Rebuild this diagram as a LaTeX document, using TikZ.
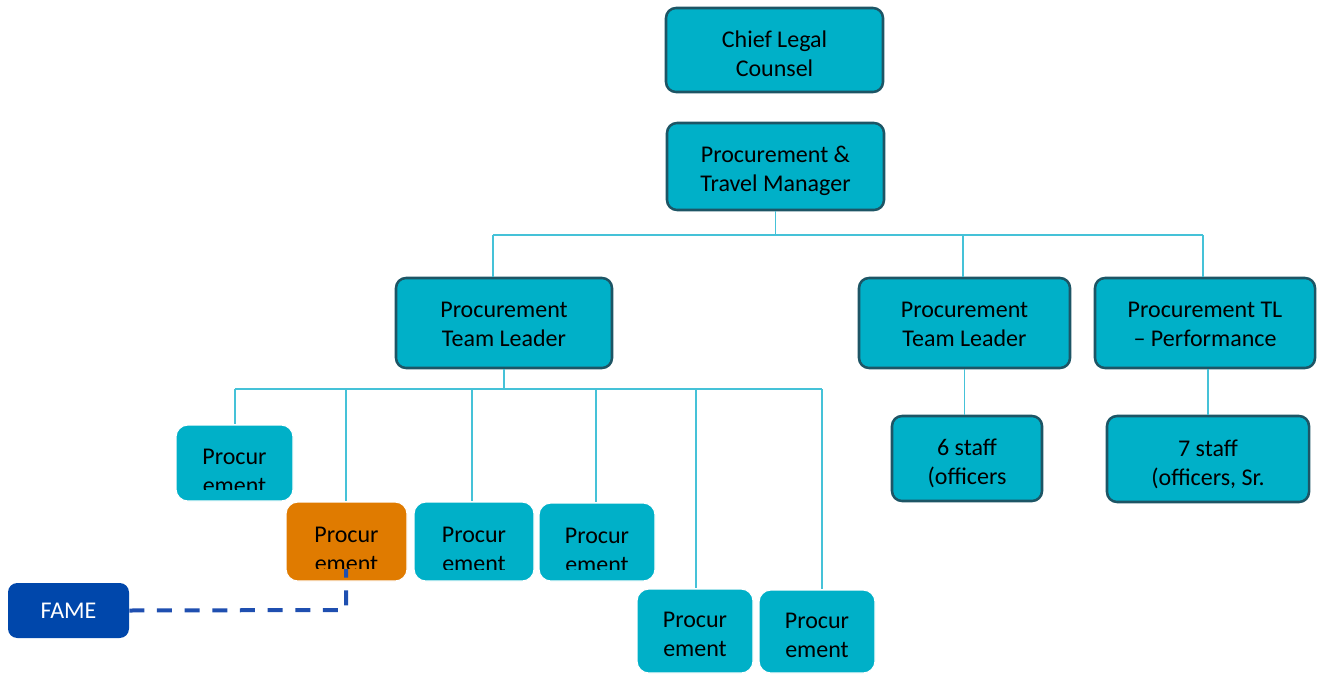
\documentclass[tikz,border=0pt]{standalone}
\usepackage{fontspec}
\setmainfont{Carlito}
\usetikzlibrary{fit}
\definecolor{boxteal}{HTML}{00B0C8}
\definecolor{boxedge}{HTML}{1D5565}
\definecolor{linkteal}{HTML}{45C2D8}
\definecolor{kidorange}{HTML}{E07B00}
\definecolor{fameblue}{HTML}{0047AB}
\definecolor{dashblue}{HTML}{1F4FB0}
\begin{document}
\begin{tikzpicture}[x=0.75pt, y=-0.75pt,
  font=\fontsize{18}{21.75}\selectfont,
  role/.style={draw=boxedge, line width=1.9pt, fill=boxteal, rounded corners=7.5pt,
    inner sep=0pt, minimum height=67.5pt},
  roletext/.style={align=center, inner sep=0pt, text=black},
  kid/.style={draw=white, line width=0.8pt, rounded corners=9pt, inner sep=0pt},
  kidtext/.style={align=center, inner sep=0pt, text=black},
  link/.style={draw=linkteal, line width=1pt}]
  \useasboundingbox (0,0) rectangle (1320,674);

  \node[role, minimum width=162.75pt, minimum height=63pt,
    label={[roletext, name=clctext, yshift=-3pt]center:Chief Legal\\Counsel}] (clc) at (774.5,50) {};
  \node[role, minimum width=162.75pt, minimum height=65.25pt,
    label={[roletext, name=ptmtext, yshift=-3pt]center:Procurement \&\\Travel Manager}] (ptm) at (775.5,166.5) {};
  \node[role, minimum width=162pt,
    label={[roletext, name=tlatext, yshift=-1.2pt]center:Procurement\\Team Leader}] (tla) at (504,323) {};
  \node[role, minimum width=158.25pt,
    label={[roletext, name=tlbtext, yshift=-1.2pt]center:Procurement\\Team Leader}] (tlb) at (964.5,323) {};
  \node[role, minimum width=165pt,
    label={[roletext, name=tlctext, yshift=-1.2pt]center:Procurement TL\\– Performance}] (tlc) at (1205,323) {};
  \node[role, minimum width=112.5pt, minimum height=63.75pt,
    label={[roletext, name=sixtext, yshift=-3.7pt]center:6 staff\\(officers}] (sixstaff) at (967,458.5) {};
  \node[role, minimum width=151.5pt, minimum height=64.5pt,
    label={[roletext, name=seventext, yshift=-3.7pt]center:7 staff\\(officers, Sr.}] (sevenstaff) at (1208,459) {};

  \foreach \k/\xa/\ya/\xb/\yb/\col in {
    ka/176/425/293/501/boxteal, kb/286/502/407/581/kidorange,
    kc/414/502/534/581/boxteal, kd/539/503/655/581/boxteal,
    ke/637/589/753/673/boxteal, kf/759/590/875/673/boxteal} {
    \node[kid, fill=\col, fit={(\xa,\ya) (\xb,\yb)}] (\k) {};
  }
  \foreach \k/\xa/\ya/\xb/\cut/\ty in {
    ka/176/425/293/489/471, kb/286/502/407/568/549.5,
    kc/414/502/534/569/549.5, kd/539/503/655/569/550.5,
    ke/637/589/753/673/634.5, kf/759/590/875/673/635.5} {
    \begin{scope}
      \clip (\xa,\ya) rectangle (\xb,\cut);
      \node[kidtext] (\k text) at ({(\xa+\xb)/2},\ty) {Procur\\ement};
    \end{scope}
  }

  \node[fill=fameblue, rounded corners=7pt, inner sep=0pt, text=white,
    minimum width=90.75pt, minimum height=41.25pt] (fame) at (68.5,610.5) {FAME};

  \coordinate (busl) at (493,235);
  \coordinate (busr) at (1203,235);
  \draw[link] (ptm.south) -- (ptm.south |- busl);
  \draw[link] (busl) -- (busr);
  \draw[link] (busl) -- (busl |- tla.north);
  \draw[link] (963,235) -- (963,235 |- tlb.north);
  \draw[link] (busr) -- (busr |- tlc.north);
  \draw[link] (tlb.south) -- (tlb.south |- sixstaff.north);
  \draw[link] (sevenstaff.north) -- (sevenstaff.north |- tlc.south);

  \coordinate (kidbus) at (235,389);
  \draw[link] (tla.south) -- (tla.south |- kidbus);
  \draw[link] (kidbus) -- (822,389);
  \foreach \k/\x in {ka/235, kb/346, kc/472, kd/596, ke/696, kf/822}
    \draw[link] (\x,389) -- (\x,389 |- \k.north);

  \coordinate (fameturn) at (346,610);
  \coordinate (fametop) at (346,569);
  \draw[dashblue, line width=3pt, dash pattern=on 11.25pt off 9.5pt]
    (fame.east) -- (fameturn) -- (fametop);
\end{tikzpicture}
\end{document}
